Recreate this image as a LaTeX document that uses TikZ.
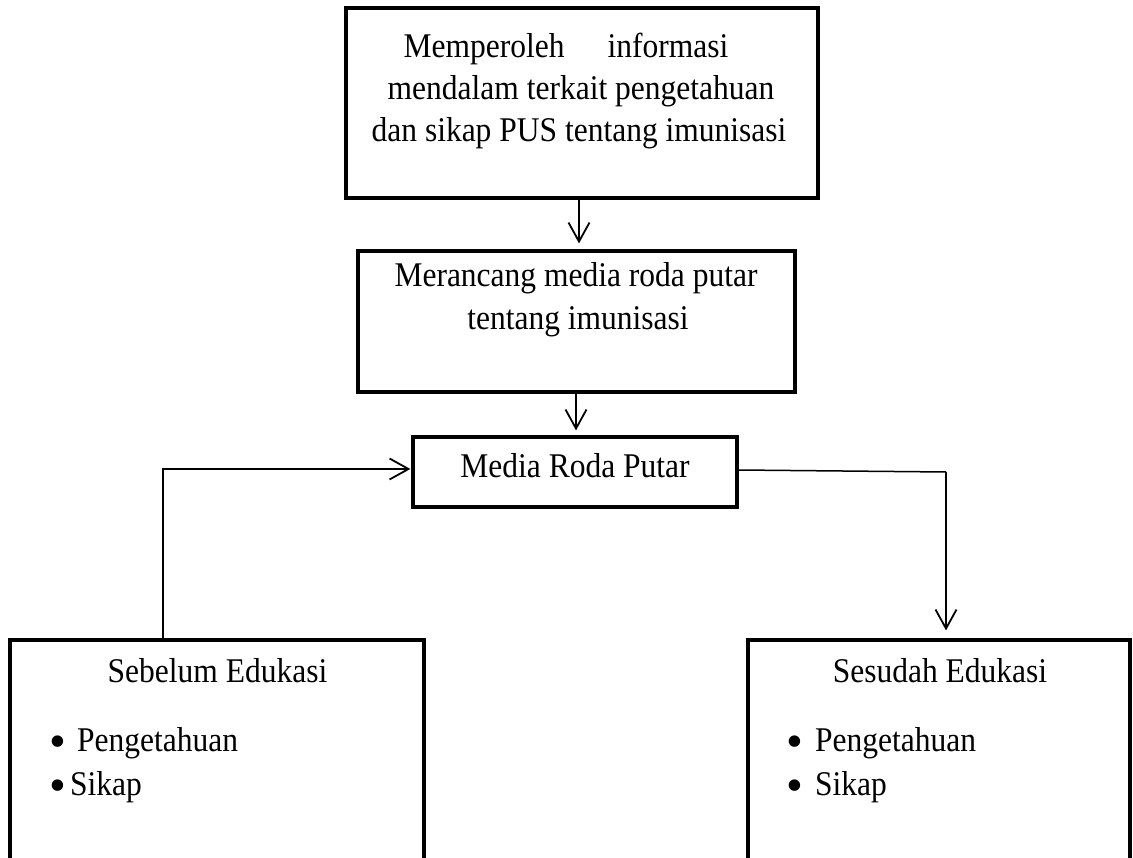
\documentclass[tikz,border=0pt]{standalone}
\usepackage{fontspec}
\usepackage{graphicx}
\setmainfont{Liberation Serif}
\usetikzlibrary{arrows.meta}
\newcommand\tallt[1]{\scalebox{1}[1.1]{#1}}
\newcommand\bigbul{\raisebox{-6pt}{\fontsize{48}{48}\selectfont •}}
\begin{document}
\begin{tikzpicture}[x=1pt,y=-1pt,
  frame/.style={draw, line width=3.2pt, rectangle, inner sep=0pt},
  txt/.style={font=\fontsize{31.5}{42}\selectfont, inner sep=0pt, anchor=base},
  item/.style={font=\fontsize{31.5}{42}\selectfont, inner sep=0pt, anchor=base west},
  bul/.style={inner sep=0pt, anchor=base},
  conn/.style={line width=1.8pt, -{Straight Barb[length=19pt,width=21pt]}},
  thinconn/.style={line width=1.5pt}
]
\useasboundingbox (0,0) rectangle (1133,858);
\clip (0,0) rectangle (1133,858);

% boxes
\node[frame, minimum width=472pt, minimum height=190pt] (tb) at (582,103) {};
\node[frame, minimum width=437pt, minimum height=141pt] (mb) at (576.5,321.5) {};
\node[frame, minimum width=324pt, minimum height=70pt] (med) at (575,472) {};
\node[frame, minimum width=414pt, minimum height=240pt] (lb) at (217,760) {};
\node[frame, minimum width=382pt, minimum height=240pt] (rb) at (939,760) {};

% texts
\node[txt] (t1) at (566,58) {\tallt{Memperoleh\hspace*{43pt}informasi}};
\node[txt] (t2) at (581,100) {\tallt{mendalam terkait pengetahuan}};
\node[txt] (t3) at (579,142) {\tallt{dan sikap PUS tentang imunisasi}};
\node[txt] (m1) at (576,287) {\tallt{Merancang media roda putar}};
\node[txt] (m2) at (578,330) {\tallt{tentang imunisasi}};
\node[txt] (md) at (575,478) {\tallt{Media Roda Putar}};
\node[txt] (lt) at (217.5,682) {\tallt{Sebelum Edukasi}};
\node[txt] (rt) at (940,682) {\tallt{Sesudah Edukasi}};
\node[bul] (lb1) at (58,751) {\bigbul};
\node[bul] (lb2) at (58,795) {\bigbul};
\node[bul] (rb1) at (795,751) {\bigbul};
\node[bul] (rb2) at (795,795) {\bigbul};
\node[item] (l1) at (77,751) {\tallt{Pengetahuan}};
\node[item] (l2) at (70,795) {\tallt{Sikap}};
\node[item] (r1) at (815,751) {\tallt{Pengetahuan}};
\node[item] (r2) at (815,795) {\tallt{Sikap}};

% connectors
\coordinate (a1) at ([xshift=-3pt]tb.south);
\draw[conn, shorten >=6pt] (a1) -- (a1 |- mb.north);
\coordinate (a2) at ([xshift=-0.5pt]mb.south);
\draw[conn, shorten >=5pt] (a2) -- (a2 |- med.north);
\coordinate (lc) at ([xshift=-54pt]lb.north);
\coordinate (lm) at ([yshift=3pt]med.west);
\draw[conn, shorten >=1pt] (lc) |- (lm);
\coordinate (rs) at ([yshift=2pt]med.east);
\coordinate (rc) at (946,472);
\draw[thinconn] (rs) -- (rc);
\draw[conn, shorten >=8pt] (rc) -- (rc |- rb.north);
\end{tikzpicture}
\end{document}
